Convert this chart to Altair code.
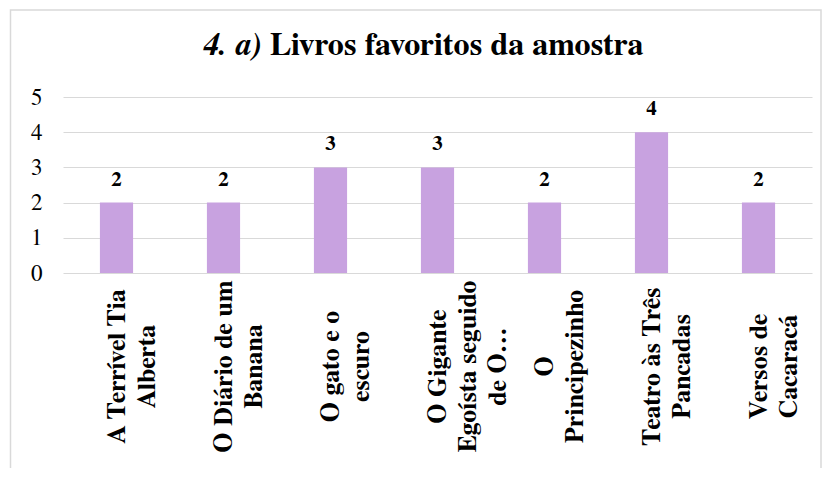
import altair as alt
import pandas as pd

# ---- data ----
books = [
    "A Terrível Tia Alberta",
    "O Diário de um Banana",
    "O gato e o escuro",
    "O Gigante Egoísta seguido de O…",
    "O Principezinho",
    "Teatro às Três Pancadas",
    "Versos de Cacaracá",
]
label_lines = [
    ["A  Terrível Tia", "Alberta"],
    ["O Diário de um", "Banana"],
    ["O gato e o", "escuro"],
    ["O Gigante", "Egoísta seguido", "de O…"],
    ["O", "Principezinho"],
    ["Teatro às Três", "Pancadas"],
    ["Versos de", "Cacaracá"],
]
counts = [2, 2, 3, 3, 2, 4, 2]
y_ticks = [0, 1, 2, 3, 4, 5]
title_prefix = "4. a)"
title_main = "Livros favoritos da amostra"

FONT = "FreeSerif"
BAR = "#C8A2E0"
GRID = "#D9D9D9"

df = pd.DataFrame({
    "livro": books,
    "rotulo": ["|".join(l) for l in label_lines],
    "n": counts,
})
order = df["rotulo"].tolist()

base = alt.Chart(df)

x_enc = alt.X(
    "rotulo:N",
    sort=order,
    scale=alt.Scale(paddingInner=0.69, paddingOuter=0.345),
    axis=alt.Axis(
        title=None,
        labelAngle=270,
        labelAlign="center",
        labelBaseline="middle",
        labelExpr="split(datum.label, '|')",
        labelFont=FONT,
        labelFontSize=26,
        labelFontWeight="bold",
        labelColor="black",
        labelLineHeight=30,
        labelPadding=93,
        labelLimit=0,
        labelOverlap=False,
        domain=False,
        ticks=False,
        grid=False,
    ),
)
y_enc = alt.Y(
    "n:Q",
    scale=alt.Scale(domain=[0, 5], nice=False),
    axis=alt.Axis(
        title=None,
        values=y_ticks,
        labelOverlap=False,
        labelFont=FONT,
        labelFontSize=23,
        labelColor="black",
        labelPadding=21,
        domain=False,
        ticks=False,
        grid=True,
        gridColor=GRID,
        gridWidth=1,
    ),
)

bars = base.mark_bar(color=BAR).encode(x=x_enc, y=y_enc)

values = base.mark_text(
    font=FONT, fontSize=21, fontWeight="bold", color="black",
    baseline="alphabetic", dy=-17,
).encode(x=x_enc, y=y_enc, text="n:Q")

t1 = alt.Chart(pd.DataFrame({"t": [title_prefix]})).mark_text(
    font=FONT, fontSize=32, fontWeight="bold", fontStyle="italic",
    color="black", align="right", baseline="alphabetic",
).encode(x=alt.value(199), y=alt.value(-42), text="t:N")

t2 = alt.Chart(pd.DataFrame({"t": [title_main]})).mark_text(
    font=FONT, fontSize=32, fontWeight="bold",
    color="black", align="left", baseline="alphabetic",
).encode(x=alt.value(207), y=alt.value(-42), text="t:N")

frame = alt.Chart(pd.DataFrame({"f": [0]})).mark_rect(
    fillOpacity=0, stroke=GRID, strokeWidth=1.5,
).encode(x=alt.value(-52.5), x2=alt.value(758), y=alt.value(-87), y2=alt.value(420))

chart = alt.layer(bars, values, t1, t2, frame).properties(
    width=749,
    height=176,
    autosize=alt.AutoSizeParams(type="none"),
    padding={"left": 55, "top": 89, "right": 10, "bottom": 195},
).configure(background="white").configure_view(stroke=None)

chart.save("out.html", embed_options={"renderer": "svg", "actions": False})
